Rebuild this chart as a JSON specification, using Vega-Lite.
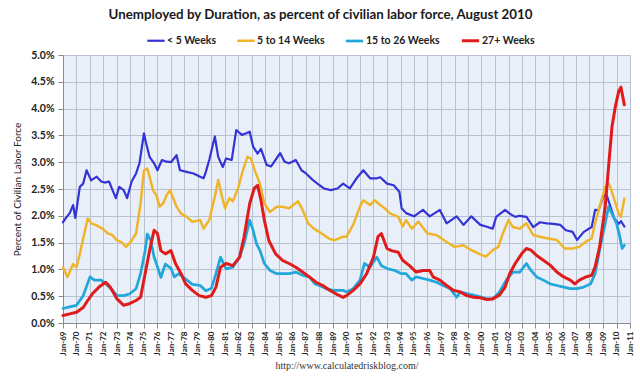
{
"$schema": "https://vega.github.io/schema/vega-lite/v6.json",
"width": 567, "height": 268,
"autosize": {"type": "none"},
"padding": {"left": 63, "top": 55, "right": 10, "bottom": 57},
"background": "white",
"title": {"text": "Unemployed by Duration, as percent of civilian labor force, August 2010", "anchor": "middle", "dx": -26, "offset": 9, "font": "Lato", "fontSize": 13.3, "fontWeight": "bold", "color": "#1a1a1a"},
"config": {"view": {"fill": "#e9eff8", "stroke": null}},
"data": {"values": [
{"d":"1969-01","s":"< 5 Weeks","v":1.88},{"d":"1969-04","s":"< 5 Weeks","v":1.97},{"d":"1969-07","s":"< 5 Weeks","v":2.05},{"d":"1969-10","s":"< 5 Weeks","v":2.2},{"d":"1969-12","s":"< 5 Weeks","v":1.96},
{"d":"1970-04","s":"< 5 Weeks","v":2.54},{"d":"1970-07","s":"< 5 Weeks","v":2.6},{"d":"1970-10","s":"< 5 Weeks","v":2.85},{"d":"1971-02","s":"< 5 Weeks","v":2.66},{"d":"1971-07","s":"< 5 Weeks","v":2.73},{"d":"1971-11","s":"< 5 Weeks","v":2.64},
{"d":"1972-02","s":"< 5 Weeks","v":2.62},{"d":"1972-06","s":"< 5 Weeks","v":2.64},{"d":"1972-09","s":"< 5 Weeks","v":2.48},{"d":"1972-12","s":"< 5 Weeks","v":2.33},{"d":"1973-03","s":"< 5 Weeks","v":2.54},{"d":"1973-07","s":"< 5 Weeks","v":2.48},{"d":"1973-10","s":"< 5 Weeks","v":2.33},
{"d":"1974-02","s":"< 5 Weeks","v":2.64},{"d":"1974-06","s":"< 5 Weeks","v":2.79},{"d":"1974-09","s":"< 5 Weeks","v":2.98},{"d":"1975-01","s":"< 5 Weeks","v":3.54},{"d":"1975-03","s":"< 5 Weeks","v":3.35},{"d":"1975-06","s":"< 5 Weeks","v":3.1},{"d":"1975-10","s":"< 5 Weeks","v":2.98},
{"d":"1976-01","s":"< 5 Weeks","v":2.85},{"d":"1976-05","s":"< 5 Weeks","v":3.04},{"d":"1976-09","s":"< 5 Weeks","v":3.01},{"d":"1977-01","s":"< 5 Weeks","v":3.0},{"d":"1977-06","s":"< 5 Weeks","v":3.13},{"d":"1977-09","s":"< 5 Weeks","v":2.85},
{"d":"1978-03","s":"< 5 Weeks","v":2.82},{"d":"1978-09","s":"< 5 Weeks","v":2.79},{"d":"1979-03","s":"< 5 Weeks","v":2.73},{"d":"1979-06","s":"< 5 Weeks","v":2.7},{"d":"1979-08","s":"< 5 Weeks","v":2.82},{"d":"1979-11","s":"< 5 Weeks","v":3.04},
{"d":"1980-04","s":"< 5 Weeks","v":3.48},{"d":"1980-07","s":"< 5 Weeks","v":3.1},{"d":"1980-11","s":"< 5 Weeks","v":2.91},{"d":"1981-02","s":"< 5 Weeks","v":3.07},{"d":"1981-07","s":"< 5 Weeks","v":3.04},{"d":"1981-11","s":"< 5 Weeks","v":3.6},
{"d":"1982-04","s":"< 5 Weeks","v":3.51},{"d":"1982-08","s":"< 5 Weeks","v":3.54},{"d":"1982-11","s":"< 5 Weeks","v":3.57},{"d":"1983-02","s":"< 5 Weeks","v":3.29},{"d":"1983-06","s":"< 5 Weeks","v":3.16},{"d":"1983-09","s":"< 5 Weeks","v":3.25},
{"d":"1984-02","s":"< 5 Weeks","v":2.95},{"d":"1984-06","s":"< 5 Weeks","v":2.92},{"d":"1985-02","s":"< 5 Weeks","v":3.17},{"d":"1985-06","s":"< 5 Weeks","v":3.01},{"d":"1985-10","s":"< 5 Weeks","v":2.98},{"d":"1986-04","s":"< 5 Weeks","v":3.04},{"d":"1986-09","s":"< 5 Weeks","v":2.85},
{"d":"1987-01","s":"< 5 Weeks","v":2.79},{"d":"1987-07","s":"< 5 Weeks","v":2.67},{"d":"1988-01","s":"< 5 Weeks","v":2.57},{"d":"1988-05","s":"< 5 Weeks","v":2.51},{"d":"1988-11","s":"< 5 Weeks","v":2.48},{"d":"1989-05","s":"< 5 Weeks","v":2.51},{"d":"1989-10","s":"< 5 Weeks","v":2.6},
{"d":"1990-04","s":"< 5 Weeks","v":2.51},{"d":"1990-10","s":"< 5 Weeks","v":2.7},{"d":"1991-04","s":"< 5 Weeks","v":2.85},{"d":"1991-10","s":"< 5 Weeks","v":2.7},{"d":"1992-04","s":"< 5 Weeks","v":2.7},{"d":"1992-07","s":"< 5 Weeks","v":2.72},
{"d":"1993-01","s":"< 5 Weeks","v":2.6},{"d":"1993-07","s":"< 5 Weeks","v":2.57},{"d":"1993-12","s":"< 5 Weeks","v":2.45},{"d":"1994-02","s":"< 5 Weeks","v":2.14},{"d":"1994-06","s":"< 5 Weeks","v":2.05},{"d":"1995-01","s":"< 5 Weeks","v":1.99},{"d":"1995-09","s":"< 5 Weeks","v":2.11},
{"d":"1996-03","s":"< 5 Weeks","v":1.99},{"d":"1996-12","s":"< 5 Weeks","v":2.11},{"d":"1997-06","s":"< 5 Weeks","v":1.86},{"d":"1998-03","s":"< 5 Weeks","v":1.99},{"d":"1998-09","s":"< 5 Weeks","v":1.83},{"d":"1999-04","s":"< 5 Weeks","v":1.99},{"d":"1999-12","s":"< 5 Weeks","v":1.83},
{"d":"2000-05","s":"< 5 Weeks","v":1.8},{"d":"2000-11","s":"< 5 Weeks","v":1.76},{"d":"2001-02","s":"< 5 Weeks","v":1.98},{"d":"2001-10","s":"< 5 Weeks","v":2.11},{"d":"2002-02","s":"< 5 Weeks","v":2.04},{"d":"2002-07","s":"< 5 Weeks","v":1.98},{"d":"2002-11","s":"< 5 Weeks","v":2.0},
{"d":"2003-05","s":"< 5 Weeks","v":1.98},{"d":"2003-11","s":"< 5 Weeks","v":1.79},{"d":"2004-05","s":"< 5 Weeks","v":1.88},{"d":"2004-11","s":"< 5 Weeks","v":1.86},{"d":"2005-05","s":"< 5 Weeks","v":1.85},{"d":"2005-11","s":"< 5 Weeks","v":1.83},
{"d":"2006-04","s":"< 5 Weeks","v":1.73},{"d":"2006-10","s":"< 5 Weeks","v":1.7},{"d":"2007-02","s":"< 5 Weeks","v":1.55},{"d":"2007-08","s":"< 5 Weeks","v":1.7},{"d":"2008-03","s":"< 5 Weeks","v":1.79},{"d":"2008-06","s":"< 5 Weeks","v":2.11},{"d":"2008-09","s":"< 5 Weeks","v":2.1},
{"d":"2009-01","s":"< 5 Weeks","v":2.35},{"d":"2009-04","s":"< 5 Weeks","v":2.4},{"d":"2009-08","s":"< 5 Weeks","v":2.15},{"d":"2009-11","s":"< 5 Weeks","v":1.95},{"d":"2010-03","s":"< 5 Weeks","v":1.85},{"d":"2010-05","s":"< 5 Weeks","v":1.9},{"d":"2010-08","s":"< 5 Weeks","v":1.8},

{"d":"1969-01","s":"5 to 14 Weeks","v":1.04},{"d":"1969-05","s":"5 to 14 Weeks","v":0.86},{"d":"1969-10","s":"5 to 14 Weeks","v":1.1},{"d":"1970-01","s":"5 to 14 Weeks","v":1.04},{"d":"1970-04","s":"5 to 14 Weeks","v":1.29},{"d":"1970-08","s":"5 to 14 Weeks","v":1.67},{"d":"1970-11","s":"5 to 14 Weeks","v":1.95},
{"d":"1971-02","s":"5 to 14 Weeks","v":1.86},{"d":"1971-06","s":"5 to 14 Weeks","v":1.83},{"d":"1971-12","s":"5 to 14 Weeks","v":1.76},{"d":"1972-05","s":"5 to 14 Weeks","v":1.67},{"d":"1972-09","s":"5 to 14 Weeks","v":1.64},{"d":"1973-01","s":"5 to 14 Weeks","v":1.54},{"d":"1973-05","s":"5 to 14 Weeks","v":1.51},{"d":"1973-09","s":"5 to 14 Weeks","v":1.42},
{"d":"1974-01","s":"5 to 14 Weeks","v":1.51},{"d":"1974-06","s":"5 to 14 Weeks","v":1.67},{"d":"1974-10","s":"5 to 14 Weeks","v":2.23},{"d":"1975-01","s":"5 to 14 Weeks","v":2.85},{"d":"1975-04","s":"5 to 14 Weeks","v":2.88},{"d":"1975-06","s":"5 to 14 Weeks","v":2.73},{"d":"1975-09","s":"5 to 14 Weeks","v":2.48},{"d":"1975-12","s":"5 to 14 Weeks","v":2.38},
{"d":"1976-03","s":"5 to 14 Weeks","v":2.17},{"d":"1976-06","s":"5 to 14 Weeks","v":2.23},{"d":"1976-09","s":"5 to 14 Weeks","v":2.38},{"d":"1976-12","s":"5 to 14 Weeks","v":2.48},{"d":"1977-03","s":"5 to 14 Weeks","v":2.33},{"d":"1977-06","s":"5 to 14 Weeks","v":2.17},{"d":"1977-10","s":"5 to 14 Weeks","v":2.04},
{"d":"1978-03","s":"5 to 14 Weeks","v":1.98},{"d":"1978-08","s":"5 to 14 Weeks","v":1.89},{"d":"1979-03","s":"5 to 14 Weeks","v":1.92},{"d":"1979-06","s":"5 to 14 Weeks","v":1.76},{"d":"1979-11","s":"5 to 14 Weeks","v":1.92},{"d":"1980-04","s":"5 to 14 Weeks","v":2.36},{"d":"1980-07","s":"5 to 14 Weeks","v":2.67},{"d":"1980-10","s":"5 to 14 Weeks","v":2.39},
{"d":"1981-01","s":"5 to 14 Weeks","v":2.14},{"d":"1981-05","s":"5 to 14 Weeks","v":2.33},{"d":"1981-08","s":"5 to 14 Weeks","v":2.27},{"d":"1982-01","s":"5 to 14 Weeks","v":2.54},{"d":"1982-05","s":"5 to 14 Weeks","v":2.85},{"d":"1982-09","s":"5 to 14 Weeks","v":3.1},{"d":"1982-12","s":"5 to 14 Weeks","v":3.07},
{"d":"1983-03","s":"5 to 14 Weeks","v":2.88},{"d":"1983-08","s":"5 to 14 Weeks","v":2.6},{"d":"1983-12","s":"5 to 14 Weeks","v":2.23},{"d":"1984-05","s":"5 to 14 Weeks","v":2.07},{"d":"1984-11","s":"5 to 14 Weeks","v":2.17},{"d":"1985-04","s":"5 to 14 Weeks","v":2.17},{"d":"1985-10","s":"5 to 14 Weeks","v":2.14},
{"d":"1986-06","s":"5 to 14 Weeks","v":2.27},{"d":"1986-10","s":"5 to 14 Weeks","v":2.11},{"d":"1987-03","s":"5 to 14 Weeks","v":1.86},{"d":"1987-08","s":"5 to 14 Weeks","v":1.76},{"d":"1988-03","s":"5 to 14 Weeks","v":1.67},{"d":"1988-09","s":"5 to 14 Weeks","v":1.58},{"d":"1989-02","s":"5 to 14 Weeks","v":1.54},{"d":"1989-10","s":"5 to 14 Weeks","v":1.61},
{"d":"1990-01","s":"5 to 14 Weeks","v":1.61},{"d":"1990-07","s":"5 to 14 Weeks","v":1.83},{"d":"1991-01","s":"5 to 14 Weeks","v":2.17},{"d":"1991-04","s":"5 to 14 Weeks","v":2.29},{"d":"1991-10","s":"5 to 14 Weeks","v":2.2},{"d":"1992-02","s":"5 to 14 Weeks","v":2.29},{"d":"1992-07","s":"5 to 14 Weeks","v":2.2},{"d":"1992-11","s":"5 to 14 Weeks","v":2.14},
{"d":"1993-04","s":"5 to 14 Weeks","v":2.04},{"d":"1993-11","s":"5 to 14 Weeks","v":1.98},{"d":"1994-03","s":"5 to 14 Weeks","v":1.8},{"d":"1994-06","s":"5 to 14 Weeks","v":1.92},{"d":"1994-11","s":"5 to 14 Weeks","v":1.76},{"d":"1995-05","s":"5 to 14 Weeks","v":1.89},{"d":"1996-01","s":"5 to 14 Weeks","v":1.67},{"d":"1996-09","s":"5 to 14 Weeks","v":1.64},
{"d":"1997-06","s":"5 to 14 Weeks","v":1.51},{"d":"1998-01","s":"5 to 14 Weeks","v":1.42},{"d":"1998-09","s":"5 to 14 Weeks","v":1.45},{"d":"1999-04","s":"5 to 14 Weeks","v":1.36},{"d":"1999-12","s":"5 to 14 Weeks","v":1.28},{"d":"2000-05","s":"5 to 14 Weeks","v":1.24},{"d":"2000-11","s":"5 to 14 Weeks","v":1.36},
{"d":"2001-04","s":"5 to 14 Weeks","v":1.42},{"d":"2001-08","s":"5 to 14 Weeks","v":1.67},{"d":"2002-01","s":"5 to 14 Weeks","v":1.92},{"d":"2002-05","s":"5 to 14 Weeks","v":1.79},{"d":"2002-11","s":"5 to 14 Weeks","v":1.76},{"d":"2003-05","s":"5 to 14 Weeks","v":1.86},{"d":"2003-11","s":"5 to 14 Weeks","v":1.64},
{"d":"2004-05","s":"5 to 14 Weeks","v":1.61},{"d":"2004-11","s":"5 to 14 Weeks","v":1.58},{"d":"2005-08","s":"5 to 14 Weeks","v":1.55},{"d":"2006-03","s":"5 to 14 Weeks","v":1.39},{"d":"2006-10","s":"5 to 14 Weeks","v":1.39},{"d":"2007-04","s":"5 to 14 Weeks","v":1.42},{"d":"2007-10","s":"5 to 14 Weeks","v":1.52},
{"d":"2008-03","s":"5 to 14 Weeks","v":1.58},{"d":"2008-06","s":"5 to 14 Weeks","v":1.86},{"d":"2008-10","s":"5 to 14 Weeks","v":2.17},{"d":"2009-03","s":"5 to 14 Weeks","v":2.54},{"d":"2009-06","s":"5 to 14 Weeks","v":2.6},{"d":"2009-08","s":"5 to 14 Weeks","v":2.51},{"d":"2009-12","s":"5 to 14 Weeks","v":2.24},
{"d":"2010-03","s":"5 to 14 Weeks","v":2.04},{"d":"2010-05","s":"5 to 14 Weeks","v":1.98},{"d":"2010-08","s":"5 to 14 Weeks","v":2.32},

{"d":"1969-01","s":"15 to 26 Weeks","v":0.27},{"d":"1969-07","s":"15 to 26 Weeks","v":0.3},{"d":"1970-01","s":"15 to 26 Weeks","v":0.33},{"d":"1970-07","s":"15 to 26 Weeks","v":0.51},{"d":"1971-01","s":"15 to 26 Weeks","v":0.86},{"d":"1971-05","s":"15 to 26 Weeks","v":0.8},{"d":"1971-11","s":"15 to 26 Weeks","v":0.8},
{"d":"1972-03","s":"15 to 26 Weeks","v":0.73},{"d":"1972-09","s":"15 to 26 Weeks","v":0.61},{"d":"1973-01","s":"15 to 26 Weeks","v":0.51},{"d":"1973-07","s":"15 to 26 Weeks","v":0.51},{"d":"1973-12","s":"15 to 26 Weeks","v":0.54},{"d":"1974-06","s":"15 to 26 Weeks","v":0.64},{"d":"1974-10","s":"15 to 26 Weeks","v":0.92},
{"d":"1975-02","s":"15 to 26 Weeks","v":1.35},{"d":"1975-04","s":"15 to 26 Weeks","v":1.66},{"d":"1975-07","s":"15 to 26 Weeks","v":1.54},{"d":"1975-10","s":"15 to 26 Weeks","v":1.23},{"d":"1976-01","s":"15 to 26 Weeks","v":1.05},{"d":"1976-04","s":"15 to 26 Weeks","v":0.85},{"d":"1976-08","s":"15 to 26 Weeks","v":1.1},
{"d":"1977-01","s":"15 to 26 Weeks","v":1.02},{"d":"1977-04","s":"15 to 26 Weeks","v":0.86},{"d":"1977-08","s":"15 to 26 Weeks","v":0.92},{"d":"1978-02","s":"15 to 26 Weeks","v":0.82},{"d":"1978-08","s":"15 to 26 Weeks","v":0.72},{"d":"1979-03","s":"15 to 26 Weeks","v":0.7},{"d":"1979-08","s":"15 to 26 Weeks","v":0.6},
{"d":"1980-01","s":"15 to 26 Weeks","v":0.65},{"d":"1980-05","s":"15 to 26 Weeks","v":0.92},{"d":"1980-09","s":"15 to 26 Weeks","v":1.23},{"d":"1981-02","s":"15 to 26 Weeks","v":1.01},{"d":"1981-08","s":"15 to 26 Weeks","v":1.04},{"d":"1982-02","s":"15 to 26 Weeks","v":1.23},{"d":"1982-06","s":"15 to 26 Weeks","v":1.48},{"d":"1982-11","s":"15 to 26 Weeks","v":1.92},
{"d":"1983-02","s":"15 to 26 Weeks","v":1.73},{"d":"1983-05","s":"15 to 26 Weeks","v":1.48},{"d":"1983-08","s":"15 to 26 Weeks","v":1.36},{"d":"1983-12","s":"15 to 26 Weeks","v":1.11},{"d":"1984-05","s":"15 to 26 Weeks","v":0.98},{"d":"1984-11","s":"15 to 26 Weeks","v":0.92},{"d":"1985-05","s":"15 to 26 Weeks","v":0.92},{"d":"1985-10","s":"15 to 26 Weeks","v":0.92},
{"d":"1986-04","s":"15 to 26 Weeks","v":0.95},{"d":"1986-10","s":"15 to 26 Weeks","v":0.89},{"d":"1987-04","s":"15 to 26 Weeks","v":0.86},{"d":"1987-09","s":"15 to 26 Weeks","v":0.73},{"d":"1988-01","s":"15 to 26 Weeks","v":0.7},{"d":"1988-07","s":"15 to 26 Weeks","v":0.64},{"d":"1989-01","s":"15 to 26 Weeks","v":0.61},{"d":"1989-10","s":"15 to 26 Weeks","v":0.61},
{"d":"1990-01","s":"15 to 26 Weeks","v":0.58},{"d":"1990-07","s":"15 to 26 Weeks","v":0.64},{"d":"1991-01","s":"15 to 26 Weeks","v":0.8},{"d":"1991-05","s":"15 to 26 Weeks","v":1.11},{"d":"1991-10","s":"15 to 26 Weeks","v":1.04},{"d":"1992-04","s":"15 to 26 Weeks","v":1.23},{"d":"1992-08","s":"15 to 26 Weeks","v":1.07},
{"d":"1993-02","s":"15 to 26 Weeks","v":1.01},{"d":"1993-08","s":"15 to 26 Weeks","v":0.98},{"d":"1994-02","s":"15 to 26 Weeks","v":0.92},{"d":"1994-06","s":"15 to 26 Weeks","v":0.92},{"d":"1994-11","s":"15 to 26 Weeks","v":0.8},{"d":"1995-03","s":"15 to 26 Weeks","v":0.86},{"d":"1995-09","s":"15 to 26 Weeks","v":0.83},
{"d":"1996-03","s":"15 to 26 Weeks","v":0.8},{"d":"1996-09","s":"15 to 26 Weeks","v":0.76},{"d":"1997-03","s":"15 to 26 Weeks","v":0.7},{"d":"1997-09","s":"15 to 26 Weeks","v":0.64},{"d":"1998-03","s":"15 to 26 Weeks","v":0.48},{"d":"1998-06","s":"15 to 26 Weeks","v":0.58},{"d":"1998-12","s":"15 to 26 Weeks","v":0.55},
{"d":"1999-06","s":"15 to 26 Weeks","v":0.52},{"d":"1999-12","s":"15 to 26 Weeks","v":0.49},{"d":"2000-06","s":"15 to 26 Weeks","v":0.45},{"d":"2000-11","s":"15 to 26 Weeks","v":0.45},{"d":"2001-05","s":"15 to 26 Weeks","v":0.58},{"d":"2001-11","s":"15 to 26 Weeks","v":0.8},
{"d":"2002-05","s":"15 to 26 Weeks","v":0.95},{"d":"2002-11","s":"15 to 26 Weeks","v":0.95},{"d":"2003-05","s":"15 to 26 Weeks","v":1.11},{"d":"2003-09","s":"15 to 26 Weeks","v":0.98},{"d":"2004-02","s":"15 to 26 Weeks","v":0.86},{"d":"2004-08","s":"15 to 26 Weeks","v":0.8},
{"d":"2005-02","s":"15 to 26 Weeks","v":0.73},{"d":"2005-08","s":"15 to 26 Weeks","v":0.7},{"d":"2006-02","s":"15 to 26 Weeks","v":0.67},{"d":"2006-08","s":"15 to 26 Weeks","v":0.64},{"d":"2007-02","s":"15 to 26 Weeks","v":0.64},{"d":"2007-08","s":"15 to 26 Weeks","v":0.67},
{"d":"2008-02","s":"15 to 26 Weeks","v":0.73},{"d":"2008-06","s":"15 to 26 Weeks","v":0.92},{"d":"2008-10","s":"15 to 26 Weeks","v":1.36},{"d":"2009-03","s":"15 to 26 Weeks","v":1.86},{"d":"2009-06","s":"15 to 26 Weeks","v":2.17},{"d":"2009-09","s":"15 to 26 Weeks","v":2.04},
{"d":"2010-01","s":"15 to 26 Weeks","v":1.86},{"d":"2010-04","s":"15 to 26 Weeks","v":1.61},{"d":"2010-06","s":"15 to 26 Weeks","v":1.39},{"d":"2010-08","s":"15 to 26 Weeks","v":1.45},

{"d":"1969-01","s":"27+ Weeks","v":0.14},{"d":"1969-07","s":"27+ Weeks","v":0.17},{"d":"1970-01","s":"27+ Weeks","v":0.2},{"d":"1970-07","s":"27+ Weeks","v":0.29},{"d":"1970-11","s":"27+ Weeks","v":0.42},{"d":"1971-03","s":"27+ Weeks","v":0.54},{"d":"1971-09","s":"27+ Weeks","v":0.67},
{"d":"1972-03","s":"27+ Weeks","v":0.76},{"d":"1972-07","s":"27+ Weeks","v":0.67},{"d":"1973-01","s":"27+ Weeks","v":0.45},{"d":"1973-07","s":"27+ Weeks","v":0.33},{"d":"1973-12","s":"27+ Weeks","v":0.36},{"d":"1974-06","s":"27+ Weeks","v":0.42},{"d":"1974-10","s":"27+ Weeks","v":0.48},
{"d":"1975-02","s":"27+ Weeks","v":0.92},{"d":"1975-06","s":"27+ Weeks","v":1.35},{"d":"1975-10","s":"27+ Weeks","v":1.73},{"d":"1976-01","s":"27+ Weeks","v":1.67},{"d":"1976-04","s":"27+ Weeks","v":1.35},{"d":"1976-08","s":"27+ Weeks","v":1.29},{"d":"1977-01","s":"27+ Weeks","v":1.35},{"d":"1977-05","s":"27+ Weeks","v":1.11},{"d":"1977-10","s":"27+ Weeks","v":0.92},
{"d":"1978-02","s":"27+ Weeks","v":0.73},{"d":"1978-08","s":"27+ Weeks","v":0.61},{"d":"1979-02","s":"27+ Weeks","v":0.51},{"d":"1979-08","s":"27+ Weeks","v":0.48},{"d":"1980-01","s":"27+ Weeks","v":0.51},{"d":"1980-05","s":"27+ Weeks","v":0.67},{"d":"1980-09","s":"27+ Weeks","v":1.04},
{"d":"1981-02","s":"27+ Weeks","v":1.11},{"d":"1981-08","s":"27+ Weeks","v":1.07},{"d":"1982-02","s":"27+ Weeks","v":1.23},{"d":"1982-06","s":"27+ Weeks","v":1.61},{"d":"1982-11","s":"27+ Weeks","v":2.23},{"d":"1983-03","s":"27+ Weeks","v":2.51},{"d":"1983-06","s":"27+ Weeks","v":2.57},{"d":"1983-09","s":"27+ Weeks","v":2.29},{"d":"1983-12","s":"27+ Weeks","v":1.92},
{"d":"1984-04","s":"27+ Weeks","v":1.54},{"d":"1984-10","s":"27+ Weeks","v":1.29},{"d":"1985-04","s":"27+ Weeks","v":1.17},{"d":"1985-10","s":"27+ Weeks","v":1.11},{"d":"1986-04","s":"27+ Weeks","v":1.04},{"d":"1986-10","s":"27+ Weeks","v":0.95},{"d":"1987-04","s":"27+ Weeks","v":0.86},{"d":"1987-10","s":"27+ Weeks","v":0.76},
{"d":"1988-04","s":"27+ Weeks","v":0.7},{"d":"1988-10","s":"27+ Weeks","v":0.61},{"d":"1989-04","s":"27+ Weeks","v":0.54},{"d":"1989-10","s":"27+ Weeks","v":0.48},{"d":"1990-01","s":"27+ Weeks","v":0.51},{"d":"1990-07","s":"27+ Weeks","v":0.61},{"d":"1991-01","s":"27+ Weeks","v":0.73},{"d":"1991-07","s":"27+ Weeks","v":0.92},
{"d":"1992-01","s":"27+ Weeks","v":1.23},{"d":"1992-05","s":"27+ Weeks","v":1.61},{"d":"1992-08","s":"27+ Weeks","v":1.67},{"d":"1993-01","s":"27+ Weeks","v":1.39},{"d":"1993-05","s":"27+ Weeks","v":1.35},{"d":"1993-11","s":"27+ Weeks","v":1.32},{"d":"1994-03","s":"27+ Weeks","v":1.17},{"d":"1994-09","s":"27+ Weeks","v":1.07},
{"d":"1995-03","s":"27+ Weeks","v":0.95},{"d":"1995-09","s":"27+ Weeks","v":0.98},{"d":"1996-03","s":"27+ Weeks","v":0.98},{"d":"1996-06","s":"27+ Weeks","v":0.86},{"d":"1996-12","s":"27+ Weeks","v":0.8},{"d":"1997-06","s":"27+ Weeks","v":0.7},{"d":"1997-12","s":"27+ Weeks","v":0.61},
{"d":"1998-06","s":"27+ Weeks","v":0.58},{"d":"1998-12","s":"27+ Weeks","v":0.51},{"d":"1999-06","s":"27+ Weeks","v":0.48},{"d":"1999-12","s":"27+ Weeks","v":0.47},{"d":"2000-05","s":"27+ Weeks","v":0.44},{"d":"2000-11","s":"27+ Weeks","v":0.45},{"d":"2001-05","s":"27+ Weeks","v":0.52},{"d":"2001-10","s":"27+ Weeks","v":0.67},
{"d":"2002-02","s":"27+ Weeks","v":0.92},{"d":"2002-07","s":"27+ Weeks","v":1.11},{"d":"2003-01","s":"27+ Weeks","v":1.3},{"d":"2003-05","s":"27+ Weeks","v":1.39},{"d":"2003-09","s":"27+ Weeks","v":1.36},{"d":"2004-02","s":"27+ Weeks","v":1.26},{"d":"2004-08","s":"27+ Weeks","v":1.17},
{"d":"2005-02","s":"27+ Weeks","v":1.08},{"d":"2005-08","s":"27+ Weeks","v":0.95},{"d":"2006-02","s":"27+ Weeks","v":0.86},{"d":"2006-08","s":"27+ Weeks","v":0.8},{"d":"2006-12","s":"27+ Weeks","v":0.73},{"d":"2007-04","s":"27+ Weeks","v":0.8},{"d":"2007-10","s":"27+ Weeks","v":0.86},
{"d":"2008-03","s":"27+ Weeks","v":0.89},{"d":"2008-06","s":"27+ Weeks","v":1.05},{"d":"2008-10","s":"27+ Weeks","v":1.42},{"d":"2009-03","s":"27+ Weeks","v":2.17},{"d":"2009-06","s":"27+ Weeks","v":2.92},{"d":"2009-09","s":"27+ Weeks","v":3.66},{"d":"2009-12","s":"27+ Weeks","v":4.04},
{"d":"2010-03","s":"27+ Weeks","v":4.32},{"d":"2010-05","s":"27+ Weeks","v":4.4},{"d":"2010-08","s":"27+ Weeks","v":4.07}
]},
"mark": {"type": "line", "strokeJoin": "round", "strokeCap": "round"},
"encoding": {
  "x": {"field": "d", "type": "temporal",
    "scale": {"domain": ["1969-01-01", "2011-01-01"]},
    "axis": {"title": "http://www.calculatedriskblog.com/", "titleFont": "Liberation Serif", "titleFontSize": 10, "titleFontWeight": "normal", "titleColor": "#333", "titlePadding": 5,
      "tickCount": {"interval": "year", "step": 1}, "format": "%b-%y", "labelAngle": 270, "labelAlign": "right", "labelBaseline": "middle",
      "labelFont": "Lato", "labelFontSize": 8, "labelFontWeight": "bold", "labelColor": "#222", "labelPadding": 3, "labelOverlap": false, "labelFlush": false,
      "grid": true, "gridColor": "#b9c2d1", "gridWidth": 1, "domainColor": "#8a8a8a", "tickColor": "#8a8a8a", "tickSize": 5}},
  "y": {"field": "v", "type": "quantitative",
    "scale": {"domain": [0, 5]},
    "axis": {"title": "Percent of Civilian Labor Force", "titleFont": "Lato", "titleFontSize": 10, "titleFontWeight": "normal", "titleColor": "#222", "titlePadding": 8,
      "values": [0, 0.5, 1, 1.5, 2, 2.5, 3, 3.5, 4, 4.5, 5], "labelExpr": "format(datum.value, '.1f') + '%'",
      "labelFont": "Lato", "labelFontSize": 10.5, "labelFontWeight": "bold", "labelColor": "#222", "labelPadding": 4,
      "grid": true, "gridColor": "#b9c2d1", "gridWidth": 1, "domainColor": "#8a8a8a", "tickColor": "#8a8a8a", "tickSize": 5}},
  "color": {"field": "s", "type": "nominal",
    "scale": {"domain": ["< 5 Weeks", "5 to 14 Weeks", "15 to 26 Weeks", "27+ Weeks"], "range": ["#3434d6", "#f0b429", "#22a7da", "#e01b1b"]},
    "legend": {"title": null, "orient": "none", "legendX": 83, "legendY": -25, "direction": "horizontal", "symbolType": "stroke", "symbolSize": 300, "symbolStrokeWidth": 3,
      "labelFont": "Lato", "labelFontSize": 10.5, "labelFontWeight": "bold", "labelColor": "#222", "columnPadding": 15, "labelOffset": 1}},
  "strokeWidth": {"field": "s", "type": "nominal",
    "scale": {"domain": ["< 5 Weeks", "5 to 14 Weeks", "15 to 26 Weeks", "27+ Weeks"], "range": [2.2, 3, 2.2, 3.5]}, "legend": null}
}
}
